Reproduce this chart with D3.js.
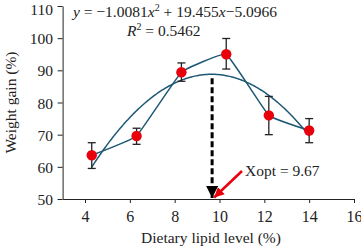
<!DOCTYPE html>
<html>
<head>
<meta charset="utf-8">
<script src="https://cdn.jsdelivr.net/npm/d3@7"></script>
<style>
  body { margin: 0; background: #fff; }
  text { font-family: "Liberation Serif", "Times New Roman", serif; }
</style>
</head>
<body>
<div id="chart"></div>
<script>
// dados
const lipidLevel = [4.3, 6.3, 8.3, 10.3, 12.2, 14];
const weightGain = [63.6, 69.6, 89.4, 95.0, 76.0, 71.3];
const errLow = [59.5, 67.0, 86.6, 90.4, 70.0, 67.5];
const errHigh = [67.5, 72.0, 92.3, 99.9, 81.9, 75.0];
const xTicks = [4, 6, 8, 10, 12, 14, 16];
const yTicks = [50, 60, 70, 80, 90, 100, 110];
const coef = [-1.0081, 19.455, -5.0966];
const xOpt = 9.67;

const largura = 361, altura = 250;
const svg = d3.select("#chart").append("svg")
  .attr("width", largura).attr("height", altura);

const x = d3.scaleLinear().domain([3, 16]).range([62.6, 354]);
const y = d3.scaleLinear().domain([50, 110]).range([199, 6]);

// eixos
svg.append("g")
  .attr("transform", `translate(0,${y(50)})`)
  .call(d3.axisBottom(x).tickValues(xTicks).tickSize(4).tickSizeOuter(0))
  .call(g => g.selectAll("text").attr("font-size", 16).attr("fill", "#222").attr("dy", "1.0em"))
  .call(g => g.selectAll("line,path").attr("stroke", "#222"));

svg.append("g")
  .attr("transform", `translate(${x(3)},0)`)
  .call(d3.axisLeft(y).tickValues(yTicks).tickSize(5).tickSizeOuter(0))
  .call(g => g.selectAll("text").attr("font-size", 15.5).attr("fill", "#222")
    .attr("dx", "-0.1em").attr("dy", d => d === 110 ? "0.52em" : "0.36em"))
  .call(g => g.selectAll("line,path").attr("stroke", "#222"));

// títulos dos eixos
svg.append("text")
  .attr("x", 211).attr("y", 243)
  .attr("text-anchor", "middle").attr("font-size", 15.5).attr("fill", "#222")
  .text("Dietary lipid level (%)");

svg.append("text")
  .attr("transform", `translate(16,${y(80)}) rotate(-90)`)
  .attr("text-anchor", "middle").attr("font-size", 15.5).attr("fill", "#222")
  .text("Weight gain (%)");

const cor = "#1d5874";
const pontos = lipidLevel.map((d, i) => [d, weightGain[i]]);

// curva ajustada
const fit = v => coef[0] * v * v + coef[1] * v + coef[2];
const fitPts = d3.range(lipidLevel[0], lipidLevel[5] + 0.001, 0.05).map(v => [v, fit(v)]);
svg.append("path")
  .datum(fitPts)
  .attr("fill", "none").attr("stroke", cor).attr("stroke-width", 1.5)
  .attr("d", d3.line().x(d => x(d[0])).y(d => y(d[1])));

// linha ligando os pontos
svg.append("path")
  .datum(pontos)
  .attr("fill", "none").attr("stroke", cor).attr("stroke-width", 1.5)
  .attr("d", d3.line().curve(d3.curveCardinal.tension(0.75)).x(d => x(d[0])).y(d => y(d[1])));

// barras de erro
const eb = svg.append("g").attr("stroke", "#222").attr("stroke-width", 1.3);
lipidLevel.forEach((d, i) => {
  eb.append("line").attr("x1", x(d)).attr("x2", x(d)).attr("y1", y(errLow[i])).attr("y2", y(errHigh[i]));
  [errLow[i], errHigh[i]].forEach(v => {
    eb.append("line").attr("x1", x(d) - 4).attr("x2", x(d) + 4).attr("y1", y(v)).attr("y2", y(v));
  });
});

// pontos
svg.selectAll("circle.pt")
  .data(pontos).enter().append("circle")
  .attr("cx", d => x(d[0])).attr("cy", d => y(d[1]))
  .attr("r", 5.2).attr("fill", "#e8000b");

// setas
const defs = svg.append("defs");
defs.append("marker").attr("id", "pretaSeta")
  .attr("viewBox", "0 0 10 10").attr("refX", 10).attr("refY", 5)
  .attr("markerWidth", 4).attr("markerHeight", 4).attr("markerUnits", "strokeWidth")
  .attr("orient", "auto")
  .append("path").attr("d", "M0,0 L10,5 L0,10 Z").attr("fill", "#000");
defs.append("marker").attr("id", "vermSeta")
  .attr("viewBox", "0 0 10 10").attr("refX", 10).attr("refY", 5)
  .attr("markerWidth", 4).attr("markerHeight", 4).attr("markerUnits", "strokeWidth")
  .attr("orient", "auto")
  .append("path").attr("d", "M0,0 L10,5 L0,10 Z").attr("fill", "#e8000b");

svg.append("line")
  .attr("x1", x(xOpt)).attr("x2", x(xOpt))
  .attr("y1", y(fit(xOpt)) + 4).attr("y2", y(50) - 1)
  .attr("stroke", "#000").attr("stroke-width", 3)
  .attr("stroke-dasharray", "6,3")
  .attr("marker-end", "url(#pretaSeta)");

svg.append("line")
  .attr("x1", 242).attr("y1", 171)
  .attr("x2", x(xOpt) + 2).attr("y2", y(50) - 1.5)
  .attr("stroke", "#e8000b").attr("stroke-width", 2.5)
  .attr("marker-end", "url(#vermSeta)");

svg.append("text")
  .attr("x", 245).attr("y", 176)
  .attr("font-size", 15.5).attr("fill", "#222")
  .text(`Xopt = ${xOpt}`);

// equação
const eq = svg.append("text").attr("x", 73).attr("y", 17).attr("font-size", 15.5).attr("fill", "#222");
eq.append("tspan").attr("font-style", "italic").text("y");
eq.append("tspan").text(` = \u22121.0081`);
eq.append("tspan").attr("font-style", "italic").text("x");
eq.append("tspan").attr("font-size", 10).attr("dy", -6).text("2");
eq.append("tspan").attr("dy", 6).text(" + 19.455");
eq.append("tspan").attr("font-style", "italic").text("x");
eq.append("tspan").text("\u22125.0966");

const r2 = svg.append("text").attr("x", 127).attr("y", 36).attr("font-size", 15.5).attr("fill", "#222");
r2.append("tspan").attr("font-style", "italic").text("R");
r2.append("tspan").attr("font-size", 10).attr("dy", -6).text("2");
r2.append("tspan").attr("dy", 6).text(" = 0.5462");
</script>
</body>
</html>
